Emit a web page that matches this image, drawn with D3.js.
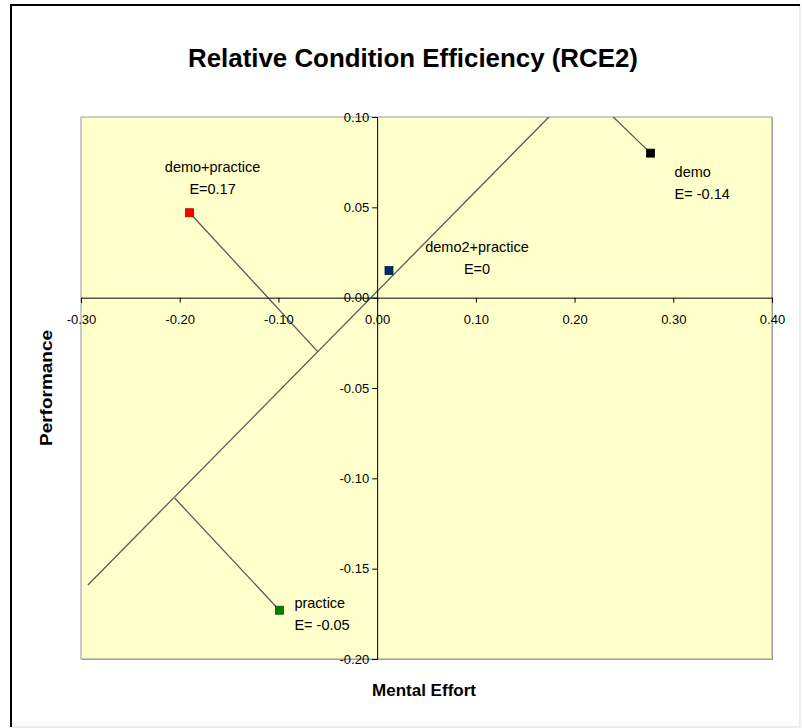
<!DOCTYPE html>
<html>
<head>
<meta charset="utf-8">
<script src="https://cdn.jsdelivr.net/npm/d3@7"></script>
<style>
  body { margin: 0; background: #fff; }
  text { font-family: Arial, 'Liberation Sans', sans-serif; }
</style>
</head>
<body>
<svg id="chart" width="802" height="728"></svg>
<script>
// data
var conditions = ['demo+practice', 'demo', 'demo2+practice', 'practice']
var effort = [-0.190, 0.277, 0.012, -0.099]
var performance = [0.047, 0.080, 0.015, -0.173]
var efficiency = ['E=0.17', 'E= -0.14', 'E=0', 'E= -0.05']
var colors = ['#ff0000', '#000000', '#002a6e', '#008000']
// foot of each point on the E=0 line
var footX = [-0.060, 0.206, null, -0.205]
var footY = [-0.030, 0.1175, null, -0.111]
// E = 0 diagonal
var diagX = [-0.293, 0.174]
var diagY = [-0.159, 0.100]
var xTicks = [-0.30, -0.20, -0.10, 0.00, 0.10, 0.20, 0.30, 0.40]
var yTicks = [-0.20, -0.15, -0.10, -0.05, 0.00, 0.05, 0.10]

var svg = d3.select('#chart')
var plot = { left: 81, right: 772, top: 117, bottom: 659 }

var x = d3.scaleLinear().domain([-0.30, 0.40]).range([plot.left, plot.right])
var y = d3.scaleLinear().domain([-0.20, 0.10]).range([plot.bottom, plot.top])

var fmt = d => d3.format('.2f')(d).replace('\u2212', '-').replace('-0.00', '0.00')

// outer frame
svg.append('rect')
   .attr('x', 11).attr('y', 5)
   .attr('width', 789).attr('height', 722)
   .style('fill', '#fff').style('stroke', '#d8d8d8').style('stroke-width', 1)
svg.append('path')
   .attr('d', 'M11,727V5H800')
   .style('fill', 'none').style('stroke', '#000').style('stroke-width', 2)

svg.append('text')
   .attr('x', 413).attr('y', 67)
   .attr('text-anchor', 'middle')
   .attr('font-size', 25.5).attr('font-weight', 'bold')
   .attr('textLength', 450).attr('lengthAdjust', 'spacingAndGlyphs')
   .text('Relative Condition Efficiency (RCE2)')

// plot area
svg.append('rect')
   .attr('x', plot.left + 1).attr('y', plot.top + 1)
   .attr('width', plot.right - plot.left).attr('height', plot.bottom - plot.top)
   .style('fill', '#a0a0a0')
svg.append('rect')
   .attr('x', plot.left).attr('y', plot.top)
   .attr('width', plot.right - plot.left).attr('height', plot.bottom - plot.top)
   .style('fill', '#ffffcc').style('stroke', '#9a9a9a').style('stroke-width', 1)

svg.append('clipPath').attr('id', 'clip')
   .append('rect')
   .attr('x', plot.left).attr('y', plot.top)
   .attr('width', plot.right - plot.left).attr('height', plot.bottom - plot.top)

var inner = svg.append('g').attr('clip-path', 'url(#clip)')

// axes crossing at zero
var xAxis = d3.axisBottom(x).tickValues(xTicks).tickFormat(fmt).tickSize(5).tickPadding(12)
var yAxis = d3.axisLeft(y).tickValues(yTicks).tickFormat(fmt).tickSize(5).tickPadding(3)

var gx = svg.append('g').attr('transform', 'translate(0,' + y(0) + ')').call(xAxis)
var gy = svg.append('g').attr('transform', 'translate(' + x(0) + ',0)').call(yAxis)
;[gx, gy].forEach(g => {
  g.select('.domain').style('stroke', '#000')
  g.selectAll('.tick line').style('stroke', '#000')
  g.selectAll('.tick text')
   .attr('font-family', 'Arial, Liberation Sans, sans-serif')
   .attr('font-size', 13).style('fill', '#000')
})

// diagonal and perpendiculars
inner.append('line')
     .attr('x1', x(diagX[0])).attr('y1', y(diagY[0]))
     .attr('x2', x(diagX[1])).attr('y2', y(diagY[1]))
     .style('stroke', '#5a5a5a').style('stroke-width', 1.3)

conditions.forEach((c, i) => {
  if (footX[i] === null) return
  inner.append('line')
       .attr('x1', x(effort[i])).attr('y1', y(performance[i]))
       .attr('x2', x(footX[i])).attr('y2', y(footY[i]))
       .style('stroke', '#5a5a5a').style('stroke-width', 1.3)
})

conditions.forEach((c, i) => {
  svg.append('rect')
     .attr('x', x(effort[i]) - 4).attr('y', y(performance[i]) - 4)
     .attr('width', 8).attr('height', 8)
     .style('fill', colors[i])
     .style('stroke', d3.color(colors[i]).darker(1.2)).style('stroke-width', 0.8)
})

// labels: [dx, dy, anchor]
var labelPos = [[23, -41, 'middle'], [24, 24, 'start'], [88, -19, 'middle'], [15, -2, 'start']]
conditions.forEach((c, i) => {
  var lx = x(effort[i]) + labelPos[i][0]
  var ly = y(performance[i]) + labelPos[i][1]
  var t = svg.append('text')
             .attr('x', lx).attr('y', ly)
             .attr('text-anchor', labelPos[i][2])
             .attr('font-size', 14.5)
  t.append('tspan').attr('x', lx).text(c)
  t.append('tspan').attr('x', lx).attr('dy', 22).text(efficiency[i])
})

svg.append('text')
   .attr('x', 424).attr('y', 696)
   .attr('text-anchor', 'middle')
   .attr('font-size', 16.5).attr('font-weight', 'bold')
   .attr('textLength', 104).attr('lengthAdjust', 'spacingAndGlyphs')
   .text('Mental Effort')

svg.append('text')
   .attr('transform', 'translate(52,388) rotate(-90)')
   .attr('text-anchor', 'middle')
   .attr('font-size', 16.5).attr('font-weight', 'bold')
   .attr('textLength', 116).attr('lengthAdjust', 'spacingAndGlyphs')
   .text('Performance')
</script>
</body>
</html>
